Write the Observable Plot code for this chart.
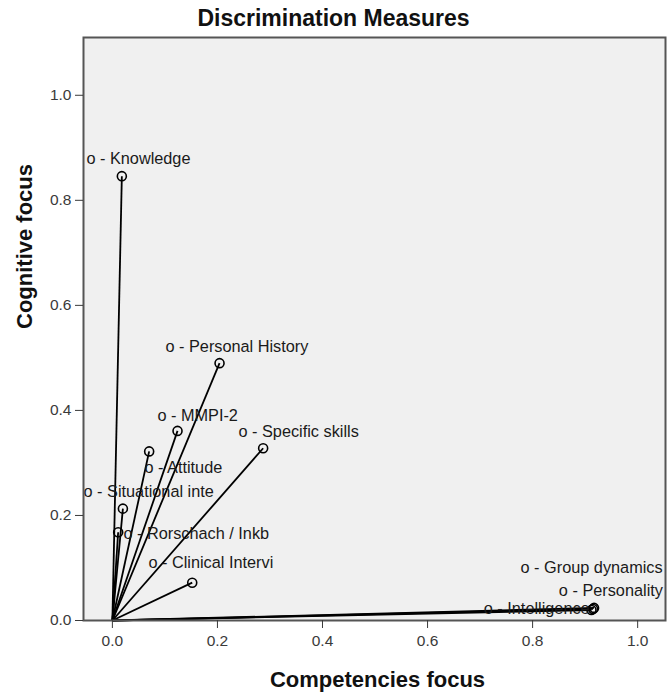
<!DOCTYPE html>
<html>
<head>
<meta charset="utf-8">
<script src="https://cdn.jsdelivr.net/npm/d3@7"></script>
<script src="https://cdn.jsdelivr.net/npm/@observablehq/plot@0.6"></script>
<style>
  html, body { margin: 0; padding: 0; background: #fff; }
</style>
</head>
<body>
<div id="chart"></div>
<script>
const title = "Discrimination Measures";
const xTitle = "Competencies focus";
const yTitle = "Cognitive focus";

const categories = ["Knowledge", "Personal History", "MMPI-2", "Specific skills", "Attitude",
  "Situational inte", "Rorschach / Inkb", "Clinical Intervi", "Group dynamics", "Personality", "Intelligence"];
const competencies = [0.018, 0.204, 0.124, 0.287, 0.070, 0.020, 0.011, 0.152, 0.917, 0.915, 0.912];
const cognitive    = [0.846, 0.490, 0.361, 0.328, 0.322, 0.213, 0.168, 0.072, 0.024, 0.022, 0.020];
// label anchor positions (data units) as placed in the picture
const labelX = [-0.0495, 0.101, 0.0857, 0.240, 0.061, -0.055, 0.021, 0.0686, 0.777, 0.850, 0.707];
const labelY = [0.880, 0.522, 0.390, 0.360, 0.290, 0.246, 0.166, 0.109, 0.101, 0.057, 0.023];

const tickValues = [0, 0.2, 0.4, 0.6, 0.8, 1.0];

const rows = categories.map((name, i) => ({
  name, x: competencies[i], y: cognitive[i], lx: labelX[i], ly: labelY[i]
}));

const chart = Plot.plot({
  width: 667,
  height: 693,
  marginLeft: 83,
  marginRight: 2,
  marginTop: 37,
  marginBottom: 73,
  x: {domain: [-0.055, 1.053]},
  y: {domain: [0, 1.11]},
  style: {fontFamily: "'Liberation Sans', Arial, sans-serif", background: "#fff", color: "#111", overflow: "visible"},
  marks: [
    Plot.frame({fill: "#f0f0f0", stroke: null}),
    Plot.link(rows, {x1: d => 0, y1: d => 0, x2: "x", y2: "y", stroke: "#000", strokeWidth: 1.8}),
    Plot.dot(rows, {x: "x", y: "y", r: 4.5, stroke: "#000", strokeWidth: 1.6, fill: "none"}),
    Plot.text(rows, {x: "lx", y: "ly", text: d => "o - " + d.name, textAnchor: "start",
      lineAnchor: "middle", fontSize: 16.3, fill: "#1a1a1a"}),
    Plot.frame({stroke: "#555", strokeWidth: 2}),
    Plot.axisX({ticks: tickValues, tickFormat: ".1f", tickSize: 8, tickPadding: 6, fontSize: 15.5,
      label: null, color: "#3a3a3a"}),
    Plot.axisY({ticks: tickValues, tickFormat: ".1f", tickSize: 8, tickPadding: 4, fontSize: 15.5,
      label: null, color: "#3a3a3a"}),
    Plot.text([title], {frameAnchor: "top", lineAnchor: "middle", dx: -41, dy: -19, fontSize: 23,
      fontWeight: "bold", fill: "#111"}),
    Plot.text([xTitle], {frameAnchor: "bottom", lineAnchor: "middle", dx: 3, dy: 59, fontSize: 22,
      fontWeight: "bold", fill: "#111"}),
    Plot.text([yTitle], {frameAnchor: "left", lineAnchor: "middle", dx: -59, rotate: -90, fontSize: 22,
      fontWeight: "bold", fill: "#111"})
  ]
});
document.getElementById("chart").appendChild(chart);
</script>
</body>
</html>
